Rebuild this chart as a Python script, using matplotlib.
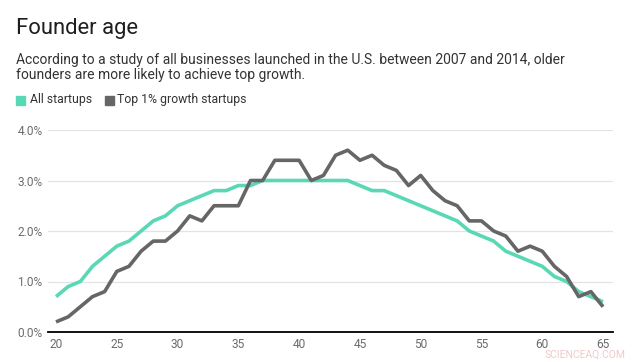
import numpy as np
from matplotlib import pyplot as plt
from matplotlib.patches import Rectangle

plt.rcParams['font.family'] = ['Roboto', 'DejaVu Sans']

ages = list(range(20, 66))
all_startups = [0.7, 0.9, 1.0, 1.3, 1.5, 1.7, 1.8, 2.0, 2.2, 2.3,
                2.5, 2.6, 2.7, 2.8, 2.8, 2.9, 2.9, 3.0, 3.0, 3.0,
                3.0, 3.0, 3.0, 3.0, 3.0, 2.9, 2.8, 2.8, 2.7, 2.6,
                2.5, 2.4, 2.3, 2.2, 2.0, 1.9, 1.8, 1.6, 1.5, 1.4,
                1.3, 1.1, 1.0, 0.8, 0.7, 0.6]
top_growth = [0.2, 0.3, 0.5, 0.7, 0.8, 1.2, 1.3, 1.6, 1.8, 1.8,
              2.0, 2.3, 2.2, 2.5, 2.5, 2.5, 3.0, 3.0, 3.4, 3.4,
              3.4, 3.0, 3.1, 3.5, 3.6, 3.4, 3.5, 3.3, 3.2, 2.9,
              3.1, 2.8, 2.6, 2.5, 2.2, 2.2, 2.0, 1.9, 1.6, 1.7,
              1.6, 1.3, 1.1, 0.7, 0.8, 0.5]
xticks = [20, 25, 30, 35, 40, 45, 50, 55, 60, 65]
yticks = [0, 1, 2, 3, 4]

green = "#5ad8b6"
grey = "#666666"

W, H = 641, 362
fig = plt.figure(figsize=(W / 100, H / 100), dpi=100)
ax = fig.add_axes([48 / W, 1 - 332 / H, (613 - 48) / W, (332 - 130) / H])

ax.plot(ages, all_startups, color=green, lw=2.6, solid_capstyle="butt", zorder=3)
ax.plot(ages, top_growth, color=grey, lw=2.6, solid_capstyle="butt", zorder=4)

ax.set_xlim(19.34, 65.82)
ax.set_ylim(0, 4)
ax.set_xticks(xticks)
ax.set_yticks(yticks)
ax.set_yticklabels(["%.1f%%" % v for v in yticks])
ax.grid(axis="y", color="#e3e3e3", lw=0.9)
ax.set_axisbelow(True)
for s in ["top", "right", "left"]:
    ax.spines[s].set_visible(False)
ax.spines["bottom"].set_color("black")
ax.spines["bottom"].set_linewidth(1.3)
ax.tick_params(axis="both", length=0, labelsize=8.6, colors="#6b6b6b")
ax.tick_params(axis="y", pad=4)
ax.tick_params(axis="x", pad=4)

# header
fig.text(16 / W, 1 - 34 / H, "Founder age", fontsize=15.8, color="#1e1e1e", va="baseline")
fig.text(16 / W, 1 - 64 / H,
         "According to a study of all businesses launched in the U.S. between 2007 and 2014, older",
         fontsize=10, color="#333333", va="baseline")
fig.text(16 / W, 1 - 79.5 / H, "founders are more likely to achieve top growth.",
         fontsize=10, color="#333333", va="baseline")

# legend
fig.patches.append(Rectangle((16 / W, 1 - 104.5 / H), 9 / W, 9 / H, color=green, transform=fig.transFigure))
fig.text(30 / W, 1 - 100 / H, "All startups", fontsize=8.8, color="#333333", va="center")
fig.patches.append(Rectangle((105 / W, 1 - 104.5 / H), 9 / W, 9 / H, color=grey, transform=fig.transFigure))
fig.text(117 / W, 1 - 100 / H, "Top 1% growth startups", fontsize=8.8, color="#333333", va="center")

# watermark
fig.text(545 / W, 1 - 355 / H, "SCIENCEAQ.COM", fontsize=7.5, color="#f2c9c9", va="center")

fig.savefig("out.png", dpi=100)
